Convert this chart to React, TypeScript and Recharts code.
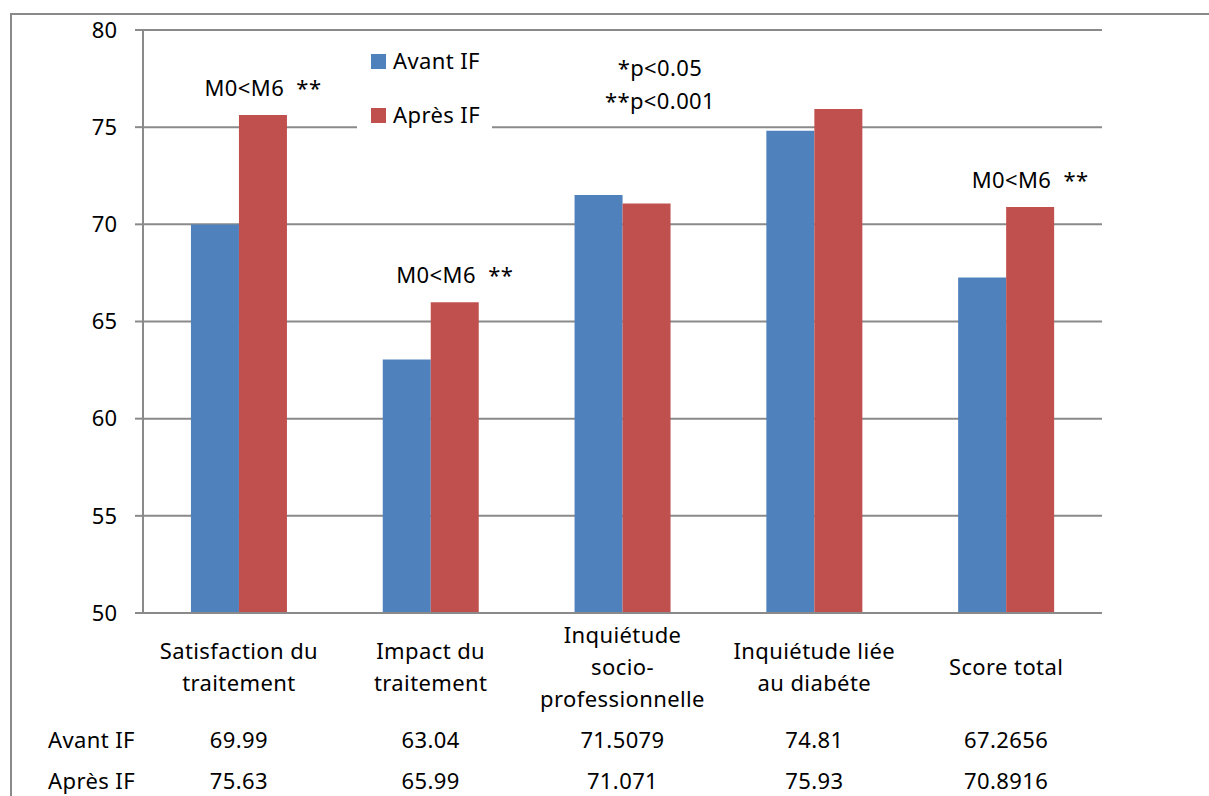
import React from 'react';
import { BarChart, Bar, XAxis, YAxis, CartesianGrid, Legend, LabelList, Customized } from 'recharts';

const categories: string[][] = [
  ['Satisfaction du', 'traitement'],
  ['Impact du', 'traitement'],
  ['Inquiétude', 'socio-', 'professionnelle'],
  ['Inquiétude liée', 'au diabéte'],
  ['Score total'],
];
const avantIF = [69.99, 63.04, 71.5079, 74.81, 67.2656];
const apresIF = [75.63, 65.99, 71.071, 75.93, 70.8916];
const avantLabels = ['69.99', '63.04', '71.5079', '74.81', '67.2656'];
const apresLabels = ['75.63', '65.99', '71.071', '75.93', '70.8916'];
const significance = ['M0<M6 **', 'M0<M6 **', '', '', 'M0<M6 **'];
const yTicks = [50, 55, 60, 65, 70, 75, 80];
const seriesNames = ['Avant IF', 'Après IF'];
const pValueNotes = ['*p<0.05', '**p<0.001'];

const data = categories.map((c, i) => ({
  name: c.join(' '),
  avant: avantIF[i],
  apres: apresIF[i],
}));

const FONT = '"Noto Sans", sans-serif';
const FS = 22;
const LS = 0.4;
const GRAY = '#8a8a8a';
const BLUE = '#4F81BD';
const RED = '#C0504D';

const XTick = (props: any) => {
  const { x, y, index } = props;
  const lines = categories[index] || [];
  const n = lines.length;
  return (
    <g fontFamily={FONT} fontSize={FS} fill="#000" letterSpacing={LS}>
      {lines.map((l, i) => (
        <text key={i} x={x} y={y + 62 + (i - (n - 1) / 2) * 32} textAnchor="middle" fill="#000">
          {l}
        </text>
      ))}
      <text x={x} y={y + 135} textAnchor="middle" fill="#000">{avantLabels[index]}</text>
      <text x={x} y={y + 176} textAnchor="middle" fill="#000">{apresLabels[index]}</text>
    </g>
  );
};

const SigLabel = (props: any) => {
  const { x, y, width, index } = props;
  const t = significance[index];
  if (!t) return null;
  return (
    <text x={x + width / 2} y={y - 19} textAnchor="middle" fontFamily={FONT} fontSize={FS} fill="#000" letterSpacing={LS} style={{ whiteSpace: 'pre' }}>
      {t.replace(' ', '  ')}
    </text>
  );
};

const renderLegend = (props: any) => {
  const payload = [...(props.payload || [])].sort(
    (a: any, b: any) => seriesNames.indexOf(a.value) - seriesNames.indexOf(b.value)
  );
  return (
    <div style={{ background: '#fff', width: 135, height: 100 }}>
      <svg width={135} height={100}>
        {payload.map((p: any, i: number) => (
          <g key={i}>
            <rect x={14} y={14 + i * 54} width={15} height={15} fill={p.color} />
            <text x={36} y={29 + i * 54} fontFamily={FONT} fontSize={FS} fill="#000" letterSpacing={LS}>
              {p.value}
            </text>
          </g>
        ))}
      </svg>
    </div>
  );
};

const Notes = () => (
  <g fontFamily={FONT} fontSize={FS} fill="#000" letterSpacing={LS}>
    <text x={660} y={76} textAnchor="middle" fill="#000">{pValueNotes[0]}</text>
    <text x={660} y={109} textAnchor="middle" fill="#000">{pValueNotes[1]}</text>
    <text x={48} y={748} fill="#000">{seriesNames[0]}</text>
    <text x={48} y={789} fill="#000">{seriesNames[1]}</text>
  </g>
);

export default function App() {
  return (
    <div style={{ position: 'absolute', left: 0, top: 0, width: 1209, height: 796, background: '#fff', overflow: 'hidden' }}>
      <div
        style={{
          position: 'absolute',
          left: 10,
          top: 13,
          width: 1210,
          height: 800,
          borderTop: `2px solid ${GRAY}`,
          borderLeft: `2px solid ${GRAY}`,
        }}
      />
      <div style={{ position: 'absolute', left: 0, top: 0 }}>
        <BarChart
          width={1209}
          height={796}
          data={data}
          margin={{ top: 30, right: 107, bottom: 0, left: 0 }}
          barCategoryGap="25%"
          barGap={0}
        >
          <CartesianGrid horizontal vertical={false} stroke={GRAY} strokeWidth={2} />
          <XAxis
            dataKey="name"
            height={183}
            axisLine={{ stroke: GRAY, strokeWidth: 2 }}
            tickLine={false}
            tickSize={0}
            tickMargin={0}
            interval={0}
            tick={<XTick />}
          />
          <YAxis
            width={143}
            domain={[50, 80]}
            ticks={yTicks}
            allowDataOverflow
            axisLine={{ stroke: GRAY, strokeWidth: 2 }}
            tickLine={{ stroke: GRAY, strokeWidth: 2 }}
            tickSize={8}
            tickMargin={18}
            tick={{ fontFamily: FONT, fontSize: FS, fill: '#000' }}
          />
          <Legend
            layout="vertical"
            align="center"
            verticalAlign="middle"
            wrapperStyle={{ left: 357, top: 40, width: 135, height: 100 }}
            content={renderLegend}
          />
          <Bar dataKey="avant" name={seriesNames[0]} fill={BLUE} isAnimationActive={false} />
          <Bar dataKey="apres" name={seriesNames[1]} fill={RED} isAnimationActive={false}>
            <LabelList dataKey="apres" content={<SigLabel />} />
          </Bar>
          <Customized component={Notes} />
        </BarChart>
      </div>
    </div>
  );
}
